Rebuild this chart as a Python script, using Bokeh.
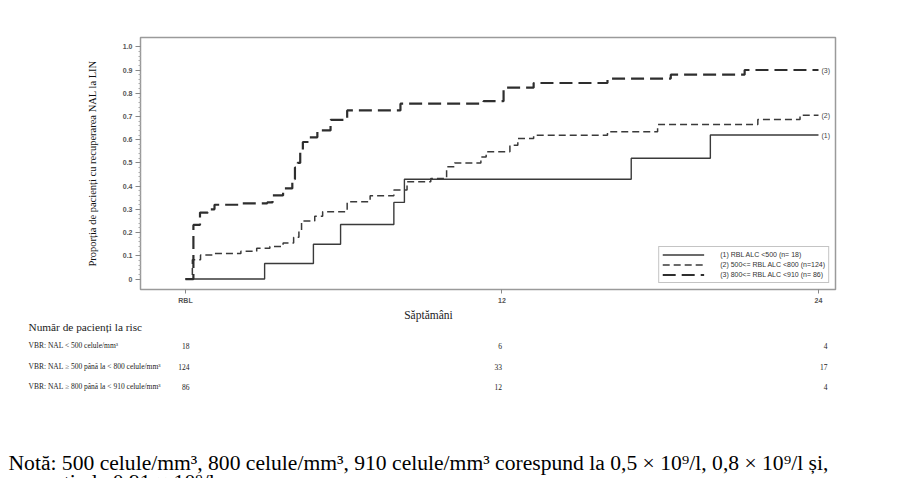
from bokeh.plotting import figure
from bokeh.models import Range1d, FixedTicker, Legend, LegendItem, ColumnDataSource
from bokeh.core.properties import value
from bokeh.embed import file_html
from bokeh.resources import INLINE

# ---------------- data ----------------
s1_weeks = [0, 3.0, 4.85, 5.88, 7.9, 8.3, 16.9, 19.9, 24]
s1_vals = [0, 0.067, 0.15, 0.235, 0.33, 0.43, 0.52, 0.62, 0.62]

s2_weeks = [0, 0.26, 0.57, 1.06, 2.1, 2.7, 3.2, 3.7, 4.1, 4.3, 4.4, 4.9, 5.2, 6.13, 7.0, 7.9,
            8.4, 9.3, 9.9, 10.2, 11.2, 11.4, 12.3, 12.6, 13.2, 16.0, 17.9, 21.7, 23.3, 24]
s2_vals = [0, 0.083, 0.104, 0.11, 0.12, 0.133, 0.14, 0.155, 0.18, 0.21, 0.25, 0.27, 0.29, 0.333, 0.359, 0.383,
           0.419, 0.433, 0.483, 0.5, 0.526, 0.548, 0.576, 0.605, 0.619, 0.634, 0.665, 0.687, 0.705, 0.705]

s3_weeks = [0, 0.3, 0.55, 0.85, 1.1, 2.1, 3.1, 3.3, 3.7, 4.05, 4.15, 4.25, 4.35, 4.45, 4.7, 5.0, 5.5,
            6.13, 8.15, 11.3, 12.06, 13.2, 16.0, 18.4, 21.2, 24]
s3_vals = [0, 0.233, 0.286, 0.30, 0.32, 0.326, 0.33, 0.36, 0.39, 0.43, 0.48, 0.5, 0.55, 0.59, 0.61, 0.64, 0.685,
           0.726, 0.755, 0.766, 0.824, 0.844, 0.863, 0.88, 0.90, 0.90]

series_names = ["(1) RBL ALC <500 (n= 18)", "(2) 500<= RBL ALC <800 (n=124)", "(3) 800<= RBL ALC <910 (n= 86)"]
end_tags = ["(1)", "(2)", "(3)"]

x_ticks = [0, 12, 24]
x_tick_labels = ["RBL", "12", "24"]
y_ticks = [0, 0.1, 0.2, 0.3, 0.4, 0.5, 0.6, 0.7, 0.8, 0.9, 1.0]
y_tick_labels = ["0", "0.1", "0.2", "0.3", "0.4", "0.5", "0.6", "0.7", "0.8", "0.9", "1.0"]

risk_title = "Număr de pacienți la risc"
risk_rows = ["VBR: NAL < 500 celule/mm³",
             "VBR: NAL ≥ 500 până la < 800 celule/mm³",
             "VBR: NAL ≥ 800 până la < 910 celule/mm³"]
risk_weeks = [0, 12, 24]
risk_counts = [[18, 6, 4], [124, 33, 17], [86, 12, 4]]

y_title = "Proporția de pacienți cu recuperarea NAL la LIN"
x_title = "Săptămâni"
note_line1 = "Notă: 500 celule/mm³, 800 celule/mm³, 910 celule/mm³ corespund la 0,5 × 10⁹/l, 0,8 × 10⁹/l și,"
note_line2 = "respectiv la 0,91 × 10⁹/l."

# ---------------- layout ----------------
W, H = 912, 478
H1 = 306
FR_L, FR_R, FR_T, FR_B = 140, 835, 37, 289
XS, XE = -1.706, 24.645
YS, YE = -0.045, 1.04
PXW = (XE - XS) / (FR_R - FR_L)


def dx(px):
    return XS + (px - FR_L) * PXW


SANS = "Liberation Sans"
SERIF = "Liberation Serif"

p = figure(width=W, height=H1, output_backend="svg", toolbar_location=None,
           x_range=Range1d(XS, XE), y_range=Range1d(YS, YE),
           min_border_left=FR_L, min_border_right=W - FR_R,
           min_border_top=FR_T, min_border_bottom=H1 - FR_B)
p.background_fill_color = "white"
p.border_fill_color = "white"
p.outline_line_color = "#9a9a9a"
p.outline_line_width = 1.5
p.xgrid.visible = False
p.ygrid.visible = False

# axes
p.xaxis.ticker = FixedTicker(ticks=x_ticks)
p.xaxis.major_label_overrides = {t: l for t, l in zip(x_ticks, x_tick_labels)}
p.xaxis.axis_line_color = "#9a9a9a"
p.xaxis.major_tick_line_color = "#888888"
p.xaxis.major_tick_out = 4
p.xaxis.major_tick_in = 0
p.xaxis.minor_tick_line_color = None
p.xaxis.major_label_text_font = SANS
p.xaxis.major_label_text_font_size = "7px"
p.xaxis.major_label_text_font_style = "bold"
p.xaxis.major_label_text_color = "#555555"
p.xaxis.major_label_standoff = 3

minor = [round(i * 0.02, 2) for i in range(0, 51) if i % 5 != 0]
p.yaxis.ticker = FixedTicker(ticks=y_ticks, minor_ticks=minor)
p.yaxis.major_label_overrides = {t: l for t, l in zip(y_ticks, y_tick_labels)}
p.yaxis.axis_line_color = "#9a9a9a"
p.yaxis.major_tick_line_color = "#888888"
p.yaxis.major_tick_out = 5
p.yaxis.major_tick_in = 0
p.yaxis.minor_tick_line_color = "#aaaaaa"
p.yaxis.minor_tick_out = 2
p.yaxis.minor_tick_in = 0
p.yaxis.major_label_text_font = SANS
p.yaxis.major_label_text_font_size = "7px"
p.yaxis.major_label_text_font_style = "bold"
p.yaxis.major_label_text_color = "#555555"
p.yaxis.major_label_standoff = 3
p.yaxis.axis_label = y_title
p.yaxis.axis_label_text_font = SERIF
p.yaxis.axis_label_text_font_style = "normal"
p.yaxis.axis_label_text_font_size = "10.5px"
p.yaxis.axis_label_text_color = "#111111"
p.yaxis.axis_label_standoff = 22

# curves
r1 = p.step(s1_weeks, s1_vals, mode="after", line_color="#3a3a3a", line_width=1.4)
r2 = p.step(s2_weeks, s2_vals, mode="after", line_color="#3a3a3a", line_width=1.5, line_dash="7 4")
r3 = p.step(s3_weeks, s3_vals, mode="after", line_color="#2e2e2e", line_width=2.2, line_dash="13 6")

# end tags
tag_src = ColumnDataSource(dict(x=[s1_weeks[-1], s2_weeks[-1], s3_weeks[-1]],
                                y=[s1_vals[-1], s2_vals[-1], s3_vals[-1]], t=end_tags))
p.text(x="x", y="y", text="t", source=tag_src, x_offset=3, text_baseline="middle",
       text_font=value(SANS), text_font_size="7px", text_color="#444444")

legend = Legend(items=[LegendItem(label=n, renderers=[r]) for n, r in zip(series_names, [r1, r2, r3])],
                location="bottom_right", margin=6, padding=3, spacing=1,
                label_text_font=SANS, label_text_font_size="7px", label_text_color="#333333",
                glyph_width=42, glyph_height=9, label_height=9, label_standoff=16,
                border_line_color="#8a8a8a", border_line_width=1, background_fill_color="white")
p.add_layout(legend)

# ---------------- lower panel: risk table and note ----------------
H2 = H - H1
q = figure(width=W, height=H2, output_backend="svg", toolbar_location=None,
           x_range=Range1d(dx(0), dx(W)), y_range=Range1d(H, H1),
           min_border_left=0, min_border_right=0, min_border_top=0, min_border_bottom=0,
           x_axis_location=None, y_axis_location=None)
q.outline_line_color = None
q.xgrid.visible = False
q.ygrid.visible = False
q.background_fill_color = "white"
q.border_fill_color = "white"

# x title
q.text(x=[dx(428)], y=[314], text=[x_title], text_align="center", text_baseline="middle",
       text_font=value(SERIF), text_font_size="11.5px", text_color="#222222")

# risk title and rows
row_py = [345, 366, 386]
q.text(x=[dx(28)], y=[326], text=[risk_title], text_align="left", text_baseline="middle",
       text_font=value(SERIF), text_font_size="11.3px", text_color="#222222")
q.text(x=[dx(28)] * 3, y=row_py, text=risk_rows, text_align="left", text_baseline="middle",
       text_font=value(SERIF), text_font_size="7.5px", text_color="#222222")
col_off = [4, 0, 9]
for j, wk in enumerate(risk_weeks):
    q.text(x=[wk] * 3, y=row_py, text=[str(risk_counts[i][j]) for i in range(3)], x_offset=col_off[j],
           text_align="right", text_baseline="middle",
           text_font=value(SERIF), text_font_size="7.5px", text_color="#222222")

# note
q.text(x=[dx(8)], y=[462], text=[note_line1], text_align="left", text_baseline="middle",
       text_font=value(SERIF), text_font_size="21.6px", text_color="#000000")
q.text(x=[dx(8)], y=[481], text=[note_line2], text_align="left", text_baseline="middle",
       text_font=value(SERIF), text_font_size="21.6px", text_color="#000000")

open("out.html", "w").write(file_html([p, q], INLINE))
